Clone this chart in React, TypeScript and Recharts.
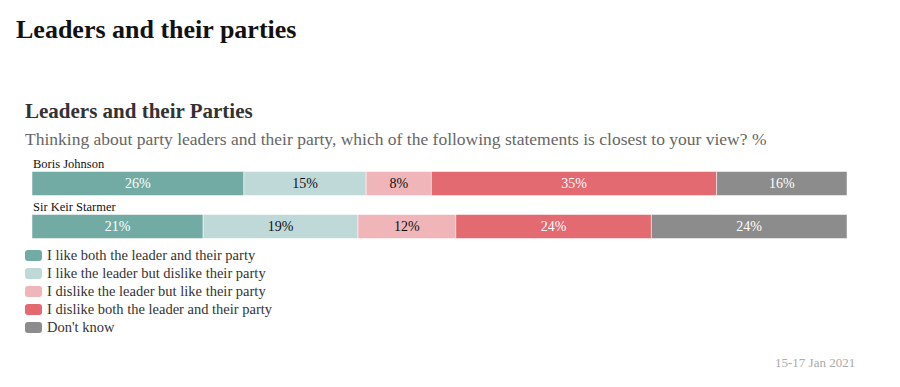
import { BarChart, Bar, XAxis, YAxis, LabelList } from 'recharts';

const leaders = ['Boris Johnson', 'Sir Keir Starmer'];
const likeBoth = [26, 21];
const likeLeaderOnly = [15, 19];
const likePartyOnly = [8, 12];
const dislikeBoth = [35, 24];
const dontKnow = [16, 24];

const series = [
  { key: 'likeBoth', name: 'I like both the leader and their party', color: '#72aba4', text: '#ffffff' },
  { key: 'likeLeaderOnly', name: 'I like the leader but dislike their party', color: '#bfd9d8', text: '#111111' },
  { key: 'likePartyOnly', name: 'I dislike the leader but like their party', color: '#f0b5b8', text: '#111111' },
  { key: 'dislikeBoth', name: 'I dislike both the leader and their party', color: '#e36a70', text: '#ffffff' },
  { key: 'dontKnow', name: "Don't know", color: '#8c8c8c', text: '#ffffff' },
];

const data = leaders.map((name, i) => ({
  name,
  likeBoth: likeBoth[i],
  likeLeaderOnly: likeLeaderOnly[i],
  likePartyOnly: likePartyOnly[i],
  dislikeBoth: dislikeBoth[i],
  dontKnow: dontKnow[i],
}));

const serif = '"Liberation Serif", "DejaVu Serif", serif';

// leader name sits just above the start of each bar
const RowLabel = (props: any) => {
  const { x, y, index } = props;
  return (
    <text x={x + 1} y={y - 4} fontFamily={serif} fontSize={12.5} fill="#111">
      {leaders[index]}
    </text>
  );
};

export default function App() {
  return (
    <div style={{ position: 'absolute', top: 0, left: 0, width: 900, height: 387, background: '#fff', overflow: 'hidden' }}>
      <div style={{ position: 'absolute', left: 16, top: 15, fontFamily: serif, fontWeight: 700, fontSize: 26, color: '#111' }}>
        Leaders and their parties
      </div>
      <div style={{ position: 'absolute', left: 25, top: 99, fontFamily: serif, fontWeight: 700, fontSize: 21, color: '#333' }}>
        Leaders and their Parties
      </div>
      <div style={{ position: 'absolute', left: 25, top: 129, fontFamily: serif, fontSize: 17.5, color: '#666' }}>
        Thinking about party leaders and their party, which of the following statements is closest to your view? %
      </div>
      <div style={{ position: 'absolute', left: 0, top: 150 }}>
        <BarChart
          width={900}
          height={98}
          data={data}
          layout="vertical"
          margin={{ top: 11.5, right: 53, bottom: 0.5, left: 32 }}
          barSize={24}
        >
          <XAxis type="number" domain={[0, 100]} hide />
          <YAxis type="category" dataKey="name" hide />
          {series.map((s, si) => (
            <Bar key={s.key} dataKey={s.key} name={s.name} stackId="a" fill={s.color} stroke="#ffffff" strokeWidth={0.5} isAnimationActive={false}>
              <LabelList
                dataKey={s.key}
                position="center"
                formatter={(v: any) => `${v}%`}
                fill={s.text}
                fontFamily={serif}
                fontSize={14}
              />
              {si === 0 && <LabelList dataKey="name" content={<RowLabel />} />}
            </Bar>
          ))}
        </BarChart>
      </div>
      <div style={{ position: 'absolute', left: 25, top: 246, fontFamily: serif, fontSize: 14.5, color: '#333' }}>
        {series.map((s) => (
          <div key={s.key} style={{ display: 'flex', alignItems: 'center', height: 18 }}>
            <span
              style={{ width: 17, height: 11, borderRadius: 3, background: s.color, marginRight: 5, display: 'inline-block' }}
            />
            {s.name}
          </div>
        ))}
      </div>
      <div style={{ position: 'absolute', left: 775, top: 355, fontFamily: serif, fontSize: 13, color: '#aaa' }}>
        15-17 Jan 2021
      </div>
    </div>
  );
}
